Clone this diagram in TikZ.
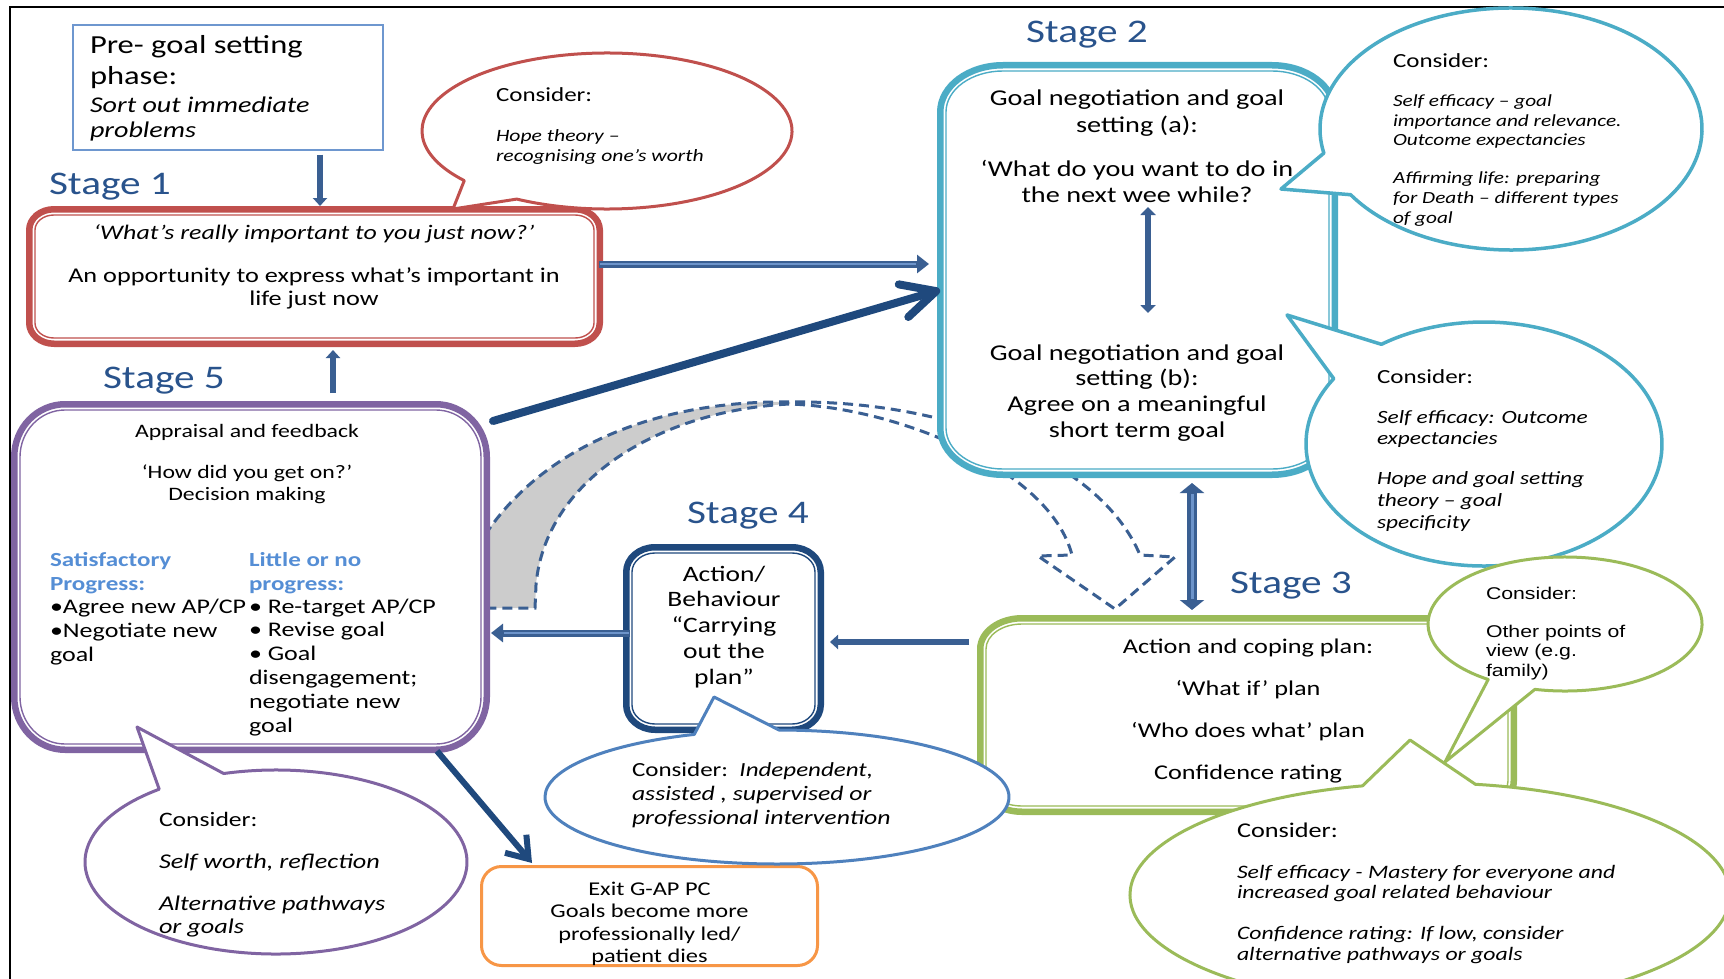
\documentclass[tikz,border=0pt]{standalone}
\usepackage{fontspec}
\setmainfont{Carlito}[FakeStretch=1.25]
\newfontfamily\arialf{Liberation Sans}[FakeStretch=1.25]
\usetikzlibrary{arrows.meta,calc}
\definecolor{stagec}{HTML}{29538C}
\definecolor{redc}{HTML}{C0504D}
\definecolor{tealc}{HTML}{4BACC6}
\definecolor{greenc}{HTML}{9BBB59}
\definecolor{purplec}{HTML}{8064A2}
\definecolor{orangec}{HTML}{F79646}
\definecolor{lbluec}{HTML}{4F81BD}
\definecolor{preblue}{HTML}{6E97CF}
\definecolor{dbluec}{HTML}{1F497D}
\definecolor{arrowc}{HTML}{3A5F92}
\definecolor{arrowl}{HTML}{6D94CA}
\definecolor{satc}{HTML}{558ED5}
\definecolor{grayf}{HTML}{CCCCCC}
\newcommand\fz[1]{\fontsize{#1}{#1}\selectfont}
% rounded rectangle with elliptical corners: options, x1,y1,x2,y2, rx, ry
\newcommand\rrect[7]{%
  \pgfmathsetmacro\rrA{#2+#6}\pgfmathsetmacro\rrB{#4-#6}%
  \pgfmathsetmacro\rrC{#5-#7}\pgfmathsetmacro\rrD{#3+#7}%
  \path[#1] (\rrA,#3) -- (\rrB,#3) arc[start angle=-90,end angle=0,x radius=#6,y radius=#7]
    -- (#4,\rrC) arc[start angle=0,end angle=90,x radius=#6,y radius=#7]
    -- (\rrA,#5) arc[start angle=90,end angle=180,x radius=#6,y radius=#7]
    -- (#2,\rrD) arc[start angle=180,end angle=270,x radius=#6,y radius=#7] -- cycle;}
% double-bordered box: name, colour, x1,y1,x2,y2, rx, ry
\newcommand\dbox[8]{%
  \node[boxanchor,minimum width={(#5-#3)*1pt},minimum height={(#6-#4)*1pt}] (#1) at ({(#3+#5)/2},{(#4+#6)/2}) {};
  \pgfmathsetmacro\bxA{#3+3.25}\pgfmathsetmacro\byA{#4+3.25}%
  \pgfmathsetmacro\bxB{#5-3.25}\pgfmathsetmacro\byB{#6-3.25}%
  \pgfmathsetmacro\brx{#7-3.25}\pgfmathsetmacro\bry{#8-3.25}%
  \rrect{fill=white,draw=#2,line width=6.5pt}{\bxA}{\byA}{\bxB}{\byB}{\brx}{\bry}%
  \pgfmathsetmacro\bxA{#3+9}\pgfmathsetmacro\byA{#4+9}%
  \pgfmathsetmacro\bxB{#5-9}\pgfmathsetmacro\byB{#6-9}%
  \pgfmathsetmacro\brx{#7-9}\pgfmathsetmacro\bry{#8-9}%
  \rrect{draw=#2,line width=1.4pt}{\bxA}{\byA}{\bxB}{\byB}{\brx}{\bry}}
% lines of text: name prefix, options, x, first baseline, step, list
\newcommand\tlines[6]{\foreach \tl [count=\ti from 0] in {#6}{\node[#2] (#1\ti) at (#3,{#4+\ti*#5}) {\tl};}}
\begin{document}
\begin{tikzpicture}[x=1pt,y=-1pt,
  txt/.style={inner sep=0pt,outer sep=0pt,anchor=base west},
  ctxt/.style={inner sep=0pt,outer sep=0pt,anchor=base},
  boxanchor/.style={inner sep=0pt,outer sep=0pt,draw=none},
  stagelbl/.style={txt,text=stagec,font=\fz{33}},
  bub/.style={draw=#1,fill=white,line width=3pt,line join=round},
  arrA/.style={draw=arrowc,line width=6pt,-{Triangle[length=8pt,width=14pt]}},
  blockA/.style={draw=arrowc,line width=7pt,-{Triangle[length=12pt,width=18pt]},
     postaction={draw=arrowl,line width=2pt,-,shorten >=13pt,shorten <=1pt}},
  blockB/.style={draw=arrowc,line width=10pt,{Triangle[length=10pt,width=24pt]}-{Triangle[length=10pt,width=24pt]},
     postaction={draw=arrowl,line width=3pt,-,shorten >=11pt,shorten <=11pt}},
  innerA/.style={draw=arrowc,line width=6pt,{Triangle[length=8pt,width=15pt]}-{Triangle[length=8pt,width=15pt]}},
  thickA/.style={draw=dbluec,line width=8pt,line cap=round,-{Straight Barb[length=34pt,width=34pt,round]}},
  exitA/.style={draw=dbluec,line width=6pt,-{Straight Barb[length=20pt,width=28pt]}},
  dashA/.style={draw=arrowc,line width=3pt,dash pattern=on 10pt off 6pt}
]
\useasboundingbox (0,0) rectangle (1724,979);
\fill[white] (0,0) rectangle (1724,979);
% frame
\draw[line width=2.5pt] (10,979) -- (10,7) -- (1724,7);

% curved dashed arrow (behind boxes)
\fill[grayf] (470,545) -- (485,535) .. controls (545,445) and (660,400) .. (790,402)
  -- (790,404) .. controls (660,410) and (545,480) .. (536,585) -- (535,608) -- (470,608) -- cycle;
\draw[dashA] (485,535) .. controls (545,445) and (660,400) .. (790,402)
  .. controls (950,400) and (1100,460) .. (1140,555) -- (1175,557) -- (1115,609) -- (1038,556) -- (1072,555)
  .. controls (1050,470) and (900,408) .. (790,404) .. controls (660,410) and (545,480) .. (536,585)
  -- (535,608) -- (480,608);

% boxes
\node[draw=preblue,line width=1.5pt,fill=white,minimum width=310pt,minimum height=125pt,inner sep=0pt] (pre) at (228,87.5) {};
\dbox{s1}{redc}{26}{206}{603}{347}{28}{24}
\dbox{s2}{tealc}{937}{62}{1338}{478}{66}{50}
\dbox{s3}{greenc}{977}{615}{1517}{815}{45}{34}
\dbox{s4}{dbluec}{623}{544}{824}{733}{32}{28}
\dbox{s5}{purplec}{11}{401}{490}{753}{54}{56}
\node[draw=orangec,line width=3pt,fill=white,rounded corners=20pt,minimum width=336pt,minimum height=99pt,inner sep=0pt] (ex) at (649.5,916) {};

% connectors
\draw[arrA] ([xshift=92pt,yshift=-4pt]pre.south) -- ([xshift=5.5pt]s1.north);
\draw[arrA] ([xshift=82.5pt,yshift=8pt]s5.north) -- ([xshift=18.5pt,yshift=-3pt]s1.south);
\draw[blockA] ([xshift=-4pt,yshift=12.5pt]s1.east) -- ([xshift=-8pt,yshift=6pt]s2.west);
\draw[blockA] ([xshift=7pt,yshift=5.5pt]s4.west) -- ([xshift=1pt,yshift=-56pt]s5.east);
\draw[arrA] ([xshift=-8pt,yshift=73pt]s3.west) -- ([xshift=6pt,yshift=-3.5pt]s4.east);
\draw[blockB] ([xshift=54.5pt,yshift=-5pt]s2.south) -- ([xshift=-55pt,yshift=5pt]s3.north);
\draw[thickA] ([xshift=3pt,yshift=-20pt]s5.north east) -- ([xshift=3pt,yshift=-20pt]s2.west);
\draw[exitA] ([xshift=186.5pt,yshift=2pt]s5.south) -- ([xshift=-117.5pt,yshift=2pt]ex.north);
\coordinate (s2up) at (1148,207);
\coordinate (s2dn) at (1148,313);
\draw[innerA] (s2up) -- (s2dn);

% speech bubbles
\draw[bub=redc] ($(607,131)+(140.5:185 and 78)$) -- (453,209) -- ($(607,131)+(119.2:185 and 78)$)
  arc[start angle=119.2,end angle=-219.5,x radius=185,y radius=78] -- cycle;
\draw[bub=tealc,line width=3.5pt] ($(1511,129)+(168.5:191 and 121)$) -- (1281,189) -- ($(1511,129)+(147.1:191 and 121)$)
  arc[start angle=147.1,end angle=-191.5,x radius=191,y radius=121] -- cycle;
\draw[bub=tealc,line width=3.5pt] ($(1484,444)+(234.8:178 and 122)$) -- (1287,315) -- ($(1484,444)+(212.4:178 and 122)$)
  arc[start angle=212.4,end angle=-125.2,x radius=178,y radius=122] -- cycle;
\draw[bub=greenc] ($(1430,895)+(-103:300 and 112)$) -- (1410,740) -- ($(1430,895)+(-81.3:300 and 112)$)
  arc[start angle=-81.3,end angle=257,x radius=300,y radius=112] -- cycle;
\draw[bub=greenc] ($(1565,624)+(124.1:137 and 67)$) -- (1445,762) -- ($(1565,624)+(102.7:137 and 67)$)
  arc[start angle=102.7,end angle=-235.9,x radius=137,y radius=67] -- cycle;
\draw[bub=lbluec] ($(777,797)+(-110.9:232 and 67)$) -- (714,697) -- ($(777,797)+(-89.5:232 and 67)$)
  arc[start angle=-89.5,end angle=249.1,x radius=232,y radius=67] -- cycle;
\draw[bub=purplec] ($(276,862)+(-127.7:191 and 92)$) -- (137,727) -- ($(276,862)+(-105.9:191 and 92)$)
  arc[start angle=-105.9,end angle=232.3,x radius=191,y radius=92] -- cycle;

% stage labels
\node[stagelbl] (lab1) at (49,194) {Stage 1};
\node[stagelbl] (lab2) at (1026,43) {Stage 2};
\node[stagelbl] (lab3) at (1230,593) {Stage 3};
\node[stagelbl] (lab4) at (687,523) {Stage 4};
\node[stagelbl] (lab5) at (103,388) {Stage 5};

% pre-goal text
\tlines{pa}{txt,font={\fz{26}}}{90}{54}{31}{{Pre- goal setting},{phase:}}
\tlines{pb}{txt,font={\fz{22.5}\itshape}}{90}{112.5}{25.5}{{Sort out immediate},{problems}}

% stage 1 text
\node[ctxt,font={\fz{20.7}\itshape}] (s1q) at (314,239) {‘What’s really important to you just now?’};
\tlines{s1t}{ctxt,font={\fz{21}}}{314}{282}{23}{{An opportunity to express what’s important in},{life just now}}

% red bubble text
\node[txt,font={\fz{20}}] (rb0) at (496,102) {Consider:};
\tlines{rbt}{txt,font={\fz{17.3}\itshape}}{496}{142}{19}{{Hope theory –},{recognising one’s worth}}

% stage 2 text
\tlines{s2a}{ctxt,font={\fz{22.6}}}{1137}{106}{26}{{Goal negotiation and goal},{setting (a):}}
\tlines{s2b}{ctxt,font={\fz{22.6}}}{1137}{176}{26}{{‘What do you want to do in},{the next wee while?}}
\tlines{s2c}{ctxt,font={\fz{22.6}}}{1137}{360}{25.7}{{Goal negotiation and goal},{setting (b):},{Agree on a meaningful},{short term goal}}

% top teal bubble text
\node[txt,font={\fz{20}}] (tb0) at (1393,68) {Consider:};
\tlines{tba}{txt,font={\fz{17}\itshape}}{1393}{107}{19.5}{{Self efficacy – goal},{importance and relevance.},{Outcome expectancies}}
\tlines{tbb}{txt,font={\fz{17}\itshape}}{1393}{183}{20}{{Affirming life: preparing},{for Death – different types},{of goal}}

% lower teal bubble text
\node[txt,font={\fz{20}}] (lb0) at (1377,383) {Consider:};
\tlines{lba}{txt,font={\fz{18.7}\itshape}}{1377}{423}{21}{{Self efficacy: Outcome},{expectancies}}
\tlines{lbb}{txt,font={\fz{18.7}\itshape}}{1377}{484}{22}{{Hope and goal setting},{theory – goal},{specificity}}

% stage 3 text
\tlines{s3t}{ctxt,font={\fz{21}}}{1248}{653}{42}{{Action and coping plan:},{‘What if’ plan},{‘Who does what’ plan},{Confidence rating}}

% small green bubble text
\node[txt,font={\arialf\fz{17}}] (sg0) at (1486,599) {Consider:};
\tlines{sgu}{txt,font={\arialf\fz{17}}}{1486}{637}{19.5}{{Other points of},{view (e.g.},{family)}}

% big green bubble text
\node[txt,font={\fz{21}}] (bg0) at (1237,837) {Consider:};
\tlines{bga}{txt,font={\fz{19}\itshape}}{1237}{878}{20.5}{{Self efficacy - Mastery for everyone and},{increased goal related behaviour}}
\tlines{bgb}{txt,font={\fz{19}\itshape}}{1237}{939}{21}{{Confidence rating: If low, consider},{alternative pathways or goals}}

% stage 4 text
\tlines{s4t}{ctxt,font={\fz{22}}}{724}{581}{25.8}{{Action/},{Behaviour},{“Carrying},{out the},{plan”}}

% blue bubble text
\node[txt,font={\fz{20}}] (bb0) at (632,776) {Consider:\ \ \textit{Independent,}};
\tlines{bbt}{txt,font={\fz{20.6}\itshape}}{632}{800}{24}{{assisted , supervised or},{professional intervention}}

% exit text
\tlines{ext}{ctxt,font={\fz{19.5}}}{649.5}{895}{22.5}{{Exit G-AP PC},{Goals become more},{professionally led/},{patient dies}}

% stage 5 text
\node[ctxt,font={\fz{19}}] (s5h) at (247,437) {Appraisal and feedback};
\tlines{s5q}{ctxt,font={\fz{19}}}{247}{478}{22}{{‘How did you get on?’},{Decision making}}
\tlines{s5l}{txt,font={\fz{20}\bfseries},text=satc}{50}{566}{24}{{Satisfactory},{Progress:}}
\tlines{s5m}{txt,font={\fz{20.8}}}{50}{613}{24}{{•Agree new AP/CP},{•Negotiate new},{goal}}
\tlines{s5r}{txt,font={\fz{20}\bfseries},text=satc}{249}{566}{24}{{Little or no},{progress:}}
\tlines{s5s}{txt,font={\fz{20.8}}}{249}{613}{23.8}{{• Re-target AP/CP},{• Revise goal},{• Goal},{disengagement;},{negotiate new},{goal}}

% purple bubble text
\node[txt,font={\fz{20.5}}] (pb0) at (159,826) {Consider:};
\node[txt,font={\fz{21}\itshape}] (pb1) at (159,868) {Self worth, reflection};
\tlines{pbt}{txt,font={\fz{21}\itshape}}{159}{910}{23}{{Alternative pathways},{or goals}}
\end{tikzpicture}
\end{document}
